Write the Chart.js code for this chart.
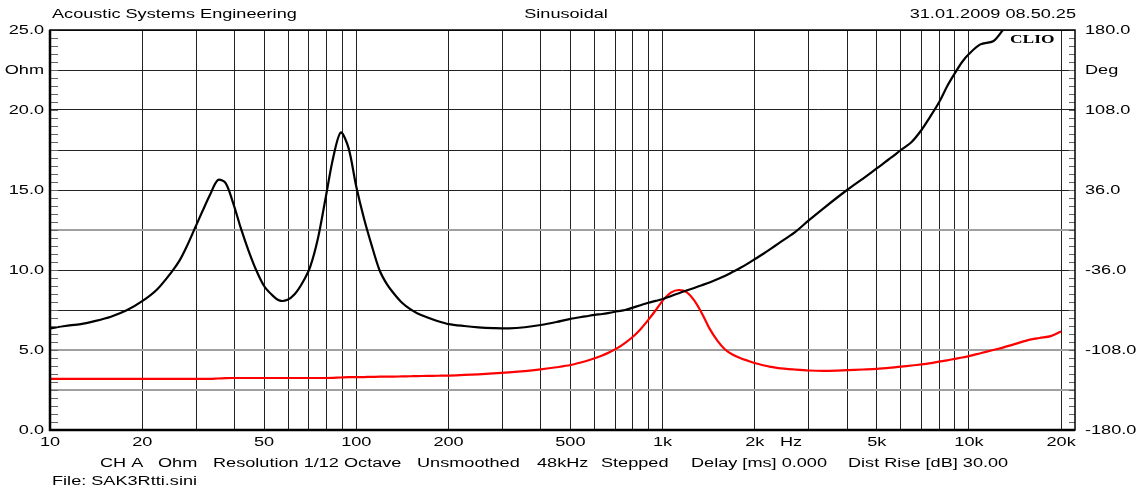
<!DOCTYPE html>
<html>
<head>
<meta charset="utf-8">
<script src="https://cdn.jsdelivr.net/npm/chart.js@4"></script>
<style>
  body { margin: 0; background: #fff; }
  #wrap { width: 1144px; height: 489px; position: relative; }
</style>
</head>
<body>
<div id="wrap"><canvas id="myChart"></canvas></div>
<script>
// frequencies (Hz) shared by both curves
const freqs = [10, 11.2, 12.6, 14.1, 15.8, 17.8, 20, 22.4,
    25, 26.5, 28, 29.7, 31.5, 33.3, 35.3, 37.4, 39.6, 42, 44.5, 47.1, 50, 53, 56, 59.4, 63, 66.7, 70.7, 75, 79.4, 84, 89, 94.4,
    100, 106, 112, 119, 126, 133, 141, 150, 158,
    170, 185, 200, 225, 250, 280, 315, 355, 400, 450, 500, 560,
    600, 635, 673, 713, 755, 800, 847, 898, 951, 1007, 1067, 1130, 1197, 1268, 1343, 1422, 1507, 1596, 1690, 1790, 1896, 2008,
    2127, 2253, 2386,
    2700, 3000, 3400, 4000, 4500, 5000, 5600, 6000, 6500, 7000, 7400, 8000, 8500, 9000, 9500, 10000, 10900, 12000, 12900,
    14000, 15500, 17000, 18500, 20000];

// black impedance curve (Ohm)
const impBlack = [6.35, 6.5, 6.62, 6.82, 7.08, 7.48, 8.05, 8.8,
    9.9, 10.6, 11.5, 12.6, 13.7, 14.7, 15.62, 15.45, 14.2, 12.6, 11.2, 10.0, 9.0, 8.45, 8.1, 8.12, 8.5, 9.2, 10.2, 12.0, 14.5, 17.0, 18.6, 17.6,
    15.2, 13.2, 11.6, 10.0, 9.1, 8.5, 7.95, 7.55, 7.3,
    7.05, 6.8, 6.62, 6.5, 6.42, 6.37, 6.35, 6.42, 6.56, 6.75, 6.95, 7.1,
    7.2, 7.25, 7.33, 7.42, 7.5, 7.65, 7.8, 7.95, 8.07, 8.2, 8.38, 8.55, 8.72, 8.88, 9.05, 9.22, 9.42, 9.63, 9.87, 10.12, 10.4, 10.7,
    11.0, 11.32, 11.65,
    12.35, 13.1, 13.95, 15.0, 15.7, 16.35, 17.05, 17.5, 18.0, 18.75, 19.45, 20.5, 21.5, 22.3, 23.0, 23.5, 24.1, 24.3, 25.0,
    26, 27, 28, 28.5, 29];

// red curve (Ohm)
const impRed = [3.2, 3.2, 3.2, 3.2, 3.2, 3.2, 3.2, 3.2,
    3.2, 3.2, 3.2, 3.2, 3.2, 3.2, 3.22, 3.24, 3.25, 3.25, 3.25, 3.25, 3.25, 3.25, 3.25, 3.25, 3.25, 3.25, 3.25, 3.25, 3.25, 3.26, 3.28, 3.3,
    3.3, 3.31, 3.32, 3.33, 3.34, 3.34, 3.35, 3.36, 3.37,
    3.38, 3.39, 3.4, 3.44, 3.48, 3.54, 3.6, 3.68, 3.79, 3.92, 4.06, 4.3,
    4.48, 4.65, 4.87, 5.13, 5.45, 5.83, 6.3, 6.88, 7.5, 8.15, 8.6, 8.75, 8.62, 8.1, 7.3, 6.35, 5.6, 5.05, 4.72, 4.5, 4.33, 4.17,
    4.05, 3.95, 3.87,
    3.78, 3.72, 3.7, 3.74, 3.78, 3.82, 3.9, 3.96, 4.03, 4.1, 4.16, 4.27, 4.35, 4.45, 4.53, 4.62, 4.8, 5.0, 5.15,
    5.35, 5.6, 5.75, 5.87, 6.15];

// axis grid & labels
const xGrid = [10, 20, 30, 40, 50, 60, 70, 80, 90, 100, 200, 300, 400, 500, 600, 700, 800, 900,
    1000, 2000, 3000, 4000, 5000, 6000, 7000, 8000, 9000, 10000, 20000];
const xTickValues = [10, 20, 50, 100, 200, 500, 1000, 2000, 5000, 10000, 20000];
const xTickText = ['10', '20', '50', '100', '200', '500', '1k', '2k', '5k', '10k', '20k'];
const yGrid = [0, 2.5, 5, 7.5, 10, 12.5, 15, 17.5, 20, 22.5, 25];
const yTickValues = [0, 5, 10, 15, 20, 22.5, 25];
const yTickText = ['0.0', '5.0', '10.0', '15.0', '20.0', 'Ohm', '25.0'];
const degTickValues = [-180, -108, -36, 36, 108, 144, 180];
const degTickText = ['-180.0', '-108.0', '-36.0', '36.0', '108.0', 'Deg', '180.0'];
const lightGrid = [2.5, 5, 12.5];

const SX = 1.45;  // the original text is stretched horizontally
const FONT = '12.5px "Liberation Sans", Arial, sans-serif';

function stretchText(ctx, text, x, y, align, baseline) {
    ctx.save();
    ctx.translate(x, y);
    ctx.scale(SX, 1);
    ctx.textAlign = align;
    ctx.textBaseline = baseline || 'alphabetic';
    ctx.fillText(text, 0, 0);
    ctx.restore();
}

const decorPlugin = {
    id: 'decor',
    afterDatasetsDraw(chart) {
        const ctx = chart.ctx;
        const a = chart.chartArea;
        const xs = chart.scales.x, ys = chart.scales.y, ds = chart.scales.y2;

        // CLIO badge
        ctx.save();
        ctx.fillStyle = '#fff';
        ctx.fillRect(1005, a.top + 1, 56, 16);
        ctx.fillStyle = '#000';
        ctx.font = 'bold 12px "Liberation Serif", "Times New Roman", serif';
        stretchText(ctx, 'CLIO', 1010, a.top + 13, 'left');
        ctx.restore();

        // minor ticks
        ctx.save();
        ctx.strokeStyle = '#666';
        ctx.lineWidth = 1;
        ctx.beginPath();
        for (let v = 0; v <= 25; v += 0.5) {
            const y = Math.round(ys.getPixelForValue(v)) + 0.5;
            ctx.moveTo(a.left, y); ctx.lineTo(a.left + 8, y);
            ctx.moveTo(a.right - 6, y); ctx.lineTo(a.right, y);
        }
        ctx.stroke();
        ctx.restore();

        // frame
        ctx.save();
        ctx.strokeStyle = '#000';
        ctx.lineWidth = 1.5;
        ctx.strokeRect(a.left, a.top, a.right - a.left, a.bottom - a.top);
        ctx.lineWidth = 2.5;
        ctx.beginPath();
        ctx.moveTo(a.left, a.top); ctx.lineTo(a.left, a.bottom); ctx.lineTo(a.right, a.bottom);
        ctx.stroke();
        ctx.restore();

        // texts
        ctx.save();
        ctx.fillStyle = '#000';
        ctx.font = FONT;
        stretchText(ctx, 'Acoustic Systems Engineering', 52, 17.5, 'left');
        stretchText(ctx, 'Sinusoidal', 566, 17.5, 'center');
        stretchText(ctx, '31.01.2009 08.50.25', 1076, 17.5, 'right');

        yTickValues.forEach((v, i) => stretchText(ctx, yTickText[i], 44, ys.getPixelForValue(v) + 1, 'right', 'middle'));
        degTickValues.forEach((v, i) => stretchText(ctx, degTickText[i], 1085, ds.getPixelForValue(v) + 1, 'left', 'middle'));
        xTickValues.forEach((v, i) => stretchText(ctx, xTickText[i], xs.getPixelForValue(v), 443, 'center', 'middle'));
        stretchText(ctx, 'Hz', xs.getPixelForValue(2625), 443, 'center', 'middle');

        const footer = [[100, 'CH A'], [158, 'Ohm'], [213, 'Resolution 1/12 Octave'], [417, 'Unsmoothed'],
            [537, '48kHz'], [601, 'Stepped'], [691, 'Delay [ms] 0.000'], [848, 'Dist Rise [dB] 30.00']];
        footer.forEach(f => stretchText(ctx, f[1], f[0], 467, 'left'));
        stretchText(ctx, 'File: SAK3Rtti.sini', 52, 485, 'left');
        ctx.restore();
    }
};

var ctx = document.getElementById('myChart').getContext('2d');

var myChart = new Chart(ctx, {
    type: 'line',
    data: {
        datasets: [{
            label: 'Black',
            data: freqs.map((f, i) => ({ x: f, y: impBlack[i] })),
            borderColor: '#000',
            borderWidth: 2.2,
            pointRadius: 0,
            tension: 0.3,
            yAxisID: 'y'
        },
        {
            label: 'Red',
            data: freqs.map((f, i) => ({ x: f, y: impRed[i] })),
            borderColor: '#ff0000',
            borderWidth: 2.2,
            pointRadius: 0,
            tension: 0.3,
            yAxisID: 'y'
        }]
    },
    options: {
        responsive: true,
        maintainAspectRatio: false,
        animation: false,
        layout: { padding: { top: 30, left: 50, right: 69, bottom: 59 } },
        plugins: { legend: { display: false }, tooltip: { enabled: false } },
        scales: {
            x: {
                type: 'logarithmic',
                min: 10,
                max: 22200,
                afterBuildTicks: s => { s.ticks = xGrid.map(v => ({ value: v })); },
                afterFit: s => { s.height = 0; },
                ticks: { display: false },
                border: { display: false },
                grid: { color: '#222', lineWidth: 1, drawTicks: false }
            },
            y: {
                min: 0,
                max: 25,
                afterBuildTicks: s => { s.ticks = yGrid.map(v => ({ value: v })); },
                afterFit: s => { s.width = 0; },
                ticks: { display: false },
                border: { display: false },
                grid: {
                    drawTicks: false,
                    color: c => lightGrid.includes(c.tick.value) ? '#a0a0a0' : '#222',
                    lineWidth: c => lightGrid.includes(c.tick.value) ? 2 : 1
                }
            },
            y2: {
                position: 'right',
                min: -180,
                max: 180,
                afterFit: s => { s.width = 0; },
                ticks: { display: false },
                border: { display: false },
                grid: { display: false, drawTicks: false }
            }
        }
    },
    plugins: [decorPlugin]
});
</script>
</body>
</html>
